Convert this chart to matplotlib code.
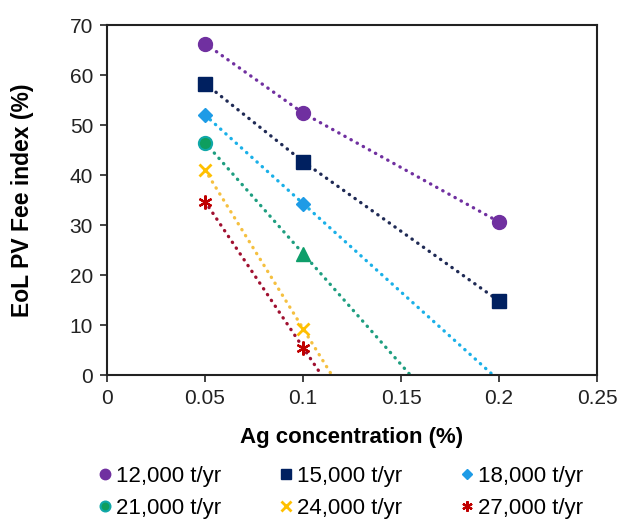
import matplotlib.pyplot as plt
import numpy as np

# Ag concentration (%) and EoL PV fee index (%) per recycling capacity
ag_conc = [0.05, 0.1, 0.2]
labels = ["12,000 t/yr", "15,000 t/yr", "18,000 t/yr",
          "21,000 t/yr", "24,000 t/yr", "27,000 t/yr"]
fee_12k = [66.3, 52.4, 30.6]
fee_15k = [58.3, 42.7, 14.8]
fee_18k = [52.0, 34.3]
fee_21k = [46.5, 24.3]
fee_24k = [41.0, 9.3]
fee_27k = [34.7, 5.5]

x_ticks = [0, 0.05, 0.1, 0.15, 0.2, 0.25]
x_ticklabels = ["0", "0.05", "0.1", "0.15", "0.2", "0.25"]

series = [fee_12k, fee_15k, fee_18k, fee_21k, fee_24k, fee_27k]
styles = [
    dict(marker="o", color="#7030A0", line="#7030A0", ms=10),
    dict(marker="s", color="#002060", line="#1F2A55", ms=9.5),
    dict(marker="D", color="#1E9BE6", line="#1AB0E8", ms=7),
    dict(marker="o", color="#12A070", line="#1E9E80", ms=9.5),
    dict(marker="x", color="#FFC000", line="#F5C040", ms=9),
    dict(marker=(6, 2, 0), color="#C00000", line="#A01030", ms=10),
]

plt.rcParams["font.family"] = ["Liberation Sans", "DejaVu Sans"]

fig = plt.figure(figsize=(6.2, 5.21), dpi=100)
ax = fig.add_axes([0.1726, 0.2802, 0.963 - 0.1726, 0.952 - 0.2802])

handles = []
for vals, st, lab in zip(series, styles, labels):
    xs = np.array(ag_conc[:len(vals)])
    ys = np.array(vals)
    if len(vals) == 2:
        # linear trend extended down to the x axis
        k, b = np.polyfit(xs, ys, 1)
        lx = np.array([xs[0], -b / k])
        ly = k * lx + b
    else:
        lx, ly = xs, ys
    ax.plot(lx, ly, color=st["line"], linestyle=(0, (0.1, 2.0)),
            dash_capstyle="round", linewidth=2.4, zorder=2)
    mew = 2 if st["marker"] == "x" else (1.6 if st["marker"] == (6, 2, 0) else 1)
    if lab == "21,000 t/yr":
        ax.plot(xs[:1], ys[:1], linestyle="none", marker="o", ms=st["ms"],
                markerfacecolor="#0E9E5E", markeredgecolor="#10A8A8",
                markeredgewidth=1.5, zorder=3)
        ax.plot(xs[1:], ys[1:], linestyle="none", marker="^", ms=st["ms"],
                color="#0E9E6A", zorder=3)
        h, = ax.plot([], [], linestyle="none", marker="o", ms=st["ms"],
                     markerfacecolor="#0E9E5E", markeredgecolor="#10A8A8",
                     markeredgewidth=1.5)
    else:
        h, = ax.plot(xs, ys, linestyle="none", marker=st["marker"],
                     ms=st["ms"], color=st["color"], markeredgewidth=mew,
                     zorder=3)
    handles.append(h)

ax.set_xlim(0, 0.25)
ax.set_ylim(0, 70)
ax.set_xticks(x_ticks)
ax.set_xticklabels(x_ticklabels)
ax.set_yticks(range(0, 71, 10))
ax.tick_params(labelsize=15, direction="out", length=5, width=1.2,
               colors="#222222", pad=5)
for sp in ax.spines.values():
    sp.set_linewidth(1.5)
    sp.set_color("#222222")

ax.set_xlabel("Ag concentration (%)", fontsize=16, fontweight="bold",
              labelpad=14)
ax.set_ylabel("EoL PV Fee index (%)", fontsize=16.5, fontweight="bold",
              labelpad=26)

# legend fills column by column, reorder so rows read left to right
order = [0, 3, 1, 4, 2, 5]
fig.legend([handles[i] for i in order], [labels[i] for i in order],
           loc="lower left", ncol=3, frameon=False, fontsize=16,
           bbox_to_anchor=(0.132, -0.022), borderaxespad=0.2,
           handletextpad=0.05, columnspacing=2.45, handlelength=0.9,
           markerscale=0.75, labelspacing=0.5)

fig.savefig("out.png", dpi=100)
